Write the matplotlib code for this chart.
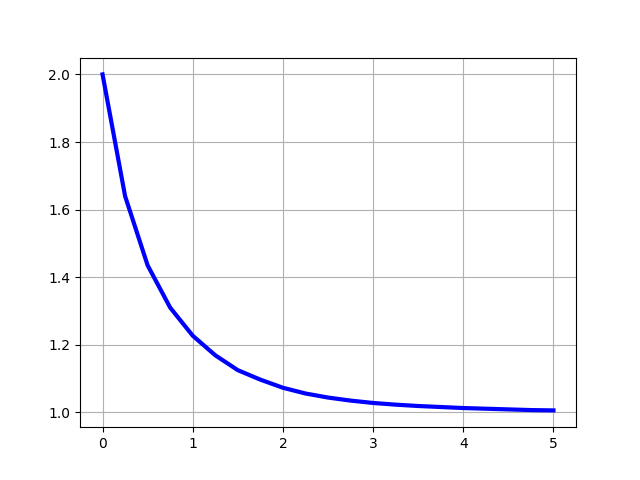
import matplotlib
matplotlib.use('Agg')
import matplotlib.pyplot as plt

# time steps and values
t = [0.0, 0.25, 0.5, 0.75, 1.0, 1.25, 1.5, 1.75, 2.0, 2.25, 2.5,
     2.75, 3.0, 3.25, 3.5, 3.75, 4.0, 4.25, 4.5, 4.75, 5.0]
y = [2.0, 1.64, 1.435, 1.31, 1.227, 1.169, 1.125, 1.097, 1.073, 1.056, 1.044,
     1.035, 1.028, 1.023, 1.019, 1.016, 1.013, 1.011, 1.009, 1.007, 1.006]

fig = plt.figure(figsize=(6.4, 4.8), dpi=100)
plt.plot(t, y, color='b', linewidth=3)
plt.grid(True)
plt.savefig('out.png')
